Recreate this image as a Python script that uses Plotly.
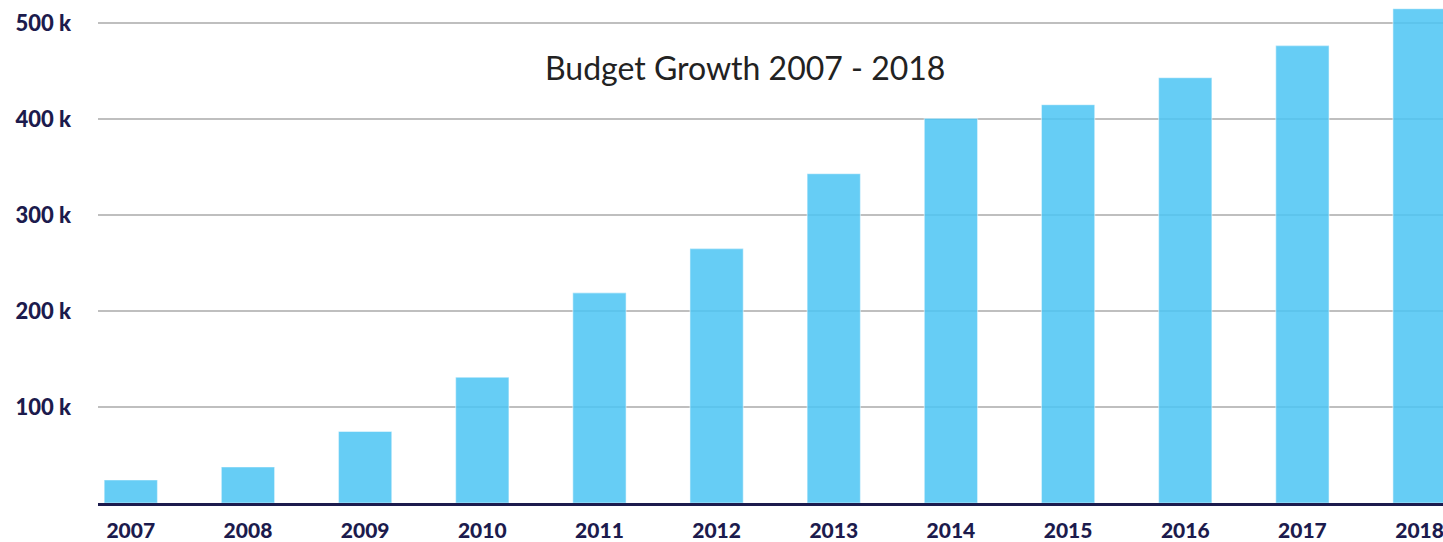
import plotly.graph_objects as go

years = ["2007", "2008", "2009", "2010", "2011", "2012", "2013", "2014", "2015", "2016", "2017", "2018"]
budget_k = [24, 37.5, 74.5, 131, 219, 265, 343, 400.7, 415, 443, 476.5, 515]
tick_vals = [100, 200, 300, 400, 500]
tick_text = ["100 k", "200 k", "300 k", "400 k", "500 k"]
title_text = "Budget Growth 2007 - 2018"

navy = "#1c1b4d"

fig = go.Figure(
    go.Bar(
        x=years,
        y=budget_k,
        marker=dict(color="rgba(75,196,243,0.85)",
                    line=dict(color="rgba(255,255,255,0.45)", width=1.2)),
        width=0.455,
        hoverinfo="x+y",
    )
)

fig.update_layout(
    width=1443,
    height=542,
    margin=dict(l=98, r=0, t=0, b=39),
    plot_bgcolor="white",
    paper_bgcolor="white",
    showlegend=False,
    font=dict(family="Lato, sans-serif", color=navy),
    annotations=[
        dict(text=title_text, xref="paper", yref="paper",
             x=0.481, y=0.865, showarrow=False,
             font=dict(family="Lato, sans-serif", size=32, color="#222222"),
             xanchor="center", yanchor="middle")
    ],
)

fig.update_xaxes(
    type="category",
    range=[-0.28, 11.2],
    automargin=False,
    showgrid=False,
    showline=True,
    linecolor=navy,
    linewidth=2.5,
    layer="below traces",
    ticks="",
    tickfont=dict(family="Lato, sans-serif", size=21, color=navy, weight=900),
    ticklabelstandoff=7,
)

fig.update_yaxes(
    range=[0, 524],
    automargin=False,
    tickvals=tick_vals,
    ticktext=tick_text,
    showgrid=True,
    gridcolor="#bfbfbf",
    gridwidth=1.5,
    zeroline=False,
    showline=False,
    layer="below traces",
    ticks="",
    tickfont=dict(family="Lato, sans-serif", size=22, color=navy, weight=900),
    ticklabelstandoff=26,
)

fig.write_html(
    "out.html",
    config={"displayModeBar": False},
    post_script="document.body.style.margin='0px';document.body.style.overflow='hidden';",
)
